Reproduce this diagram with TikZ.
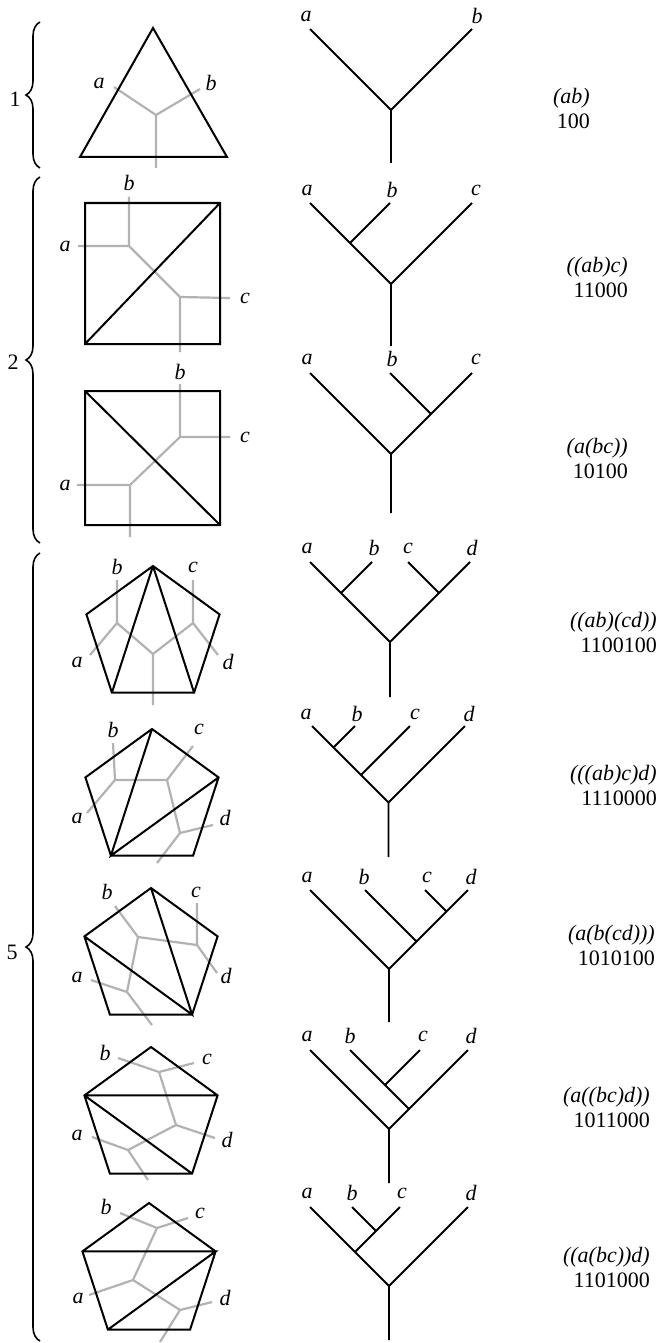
\documentclass[tikz,border=0pt]{standalone}
\usepackage{fontspec}
\setmainfont{Liberation Serif}
\usetikzlibrary{decorations.pathreplacing}
\tikzset{
  poly/.style={line width=2pt, line join=miter, draw=black},
  dual/.style={line width=2.2pt, draw=black!30},
  branch/.style={line width=1.8pt, draw=black},
  leaf/.style={font=\fontsize{22}{24}\selectfont\itshape, inner sep=0pt},
  word/.style={font=\fontsize{22}{25}\selectfont, align=right, anchor=east, inner sep=0pt},
  grp/.style={decorate, decoration={brace, amplitude=14pt}, line width=1.6pt},
  count/.style={font=\fontsize{22}{24}\selectfont, inner sep=0pt}
}
% regular pentagon corners: name, centre x, centre y
\newcommand\pentpts[3]{%
  \coordinate (#1t)  at (#2,#3-70);
  \coordinate (#1ul) at (#2-66.6,#3-21.6);
  \coordinate (#1ur) at (#2+66.6,#3-21.6);
  \coordinate (#1ll) at (#2-41.1,#3+56.6);
  \coordinate (#1lr) at (#2+41.1,#3+56.6);
}
\begin{document}
\begin{tikzpicture}[x=1pt,y=-1pt]
  \useasboundingbox (0,0) rectangle (661,1343);

  % braces
  \draw[grp] (40,168) -- (40,22);
  \node[count] (n1) at (15,99) {1};
  \draw[grp] (40,543) -- (40,177);
  \node[count] (n2) at (13,362) {2};
  \draw[grp] (40,1341) -- (40,553);
  \node[count] (n5) at (12,952) {5};

  % ---- triangle
  \coordinate (At) at (153,28);
  \coordinate (Al) at (80,157);
  \coordinate (Ar) at (227,157);
  \coordinate (Ag) at (156,115);
  \coordinate (Aa) at (114,87);
  \coordinate (Ab) at (200,89);
  \coordinate (Ax) at (156,168);
  \draw[dual] (Aa) -- (Ag) -- (Ab) (Ag) -- (Ax);
  \draw[poly] (At) -- (Al) -- (Ar) -- cycle;
  \node[leaf] (la1) at (99,83) {a};
  \node[leaf] (lb1) at (211,83) {b};

  % ---- square ((ab)c)
  \coordinate (B1) at (85,203);
  \coordinate (B2) at (220,203);
  \coordinate (B3) at (220,344);
  \coordinate (B4) at (85,344);
  \coordinate (Bg) at (129,246);
  \coordinate (Bh) at (180,297);
  \coordinate (Ba) at (78,246);
  \coordinate (Bb) at (129,197);
  \coordinate (Bc) at (230,298);
  \coordinate (Bx) at (180,352);
  \draw[dual] (Ba) -- (Bg) -- (Bb) (Bg) -- (Bh) -- (Bc) (Bh) -- (Bx);
  \draw[poly] (B1) -- (B2) -- (B3) -- (B4) -- cycle (B4) -- (B2);
  \node[leaf] (la2) at (65,246) {a};
  \node[leaf] (lb2) at (129,183) {b};
  \node[leaf] (lc2) at (245,298) {c};

  % ---- square (a(bc))
  \coordinate (C1) at (85,391);
  \coordinate (C2) at (220,391);
  \coordinate (C3) at (220,525);
  \coordinate (C4) at (85,525);
  \coordinate (Cg) at (180,437);
  \coordinate (Ch) at (130,485);
  \coordinate (Ca) at (77,485);
  \coordinate (Cb) at (180,384);
  \coordinate (Cc) at (230,437);
  \coordinate (Cx) at (130,537);
  \draw[dual] (Cb) -- (Cg) -- (Cc) (Cg) -- (Ch) -- (Ca) (Ch) -- (Cx);
  \draw[poly] (C1) -- (C2) -- (C3) -- (C4) -- cycle (C1) -- (C3);
  \node[leaf] (la3) at (65,485) {a};
  \node[leaf] (lb3) at (180,372) {b};
  \node[leaf] (lc3) at (245,437) {c};

  % ---- pentagon ((ab)(cd))
  \pentpts{D}{153}{636}
  \coordinate (Dg) at (117,623);
  \coordinate (Dh) at (193,623);
  \coordinate (Dm) at (153,654);
  \coordinate (Da) at (90,655);
  \coordinate (Db) at (117,580);
  \coordinate (Dc) at (193,580);
  \coordinate (Dd) at (218,655);
  \coordinate (Dx) at (153,705);
  \draw[dual] (Da) -- (Dg) -- (Db) (Dg) -- (Dm) -- (Dh) -- (Dc) (Dh) -- (Dd) (Dm) -- (Dx);
  \draw[poly] (Dt) -- (Dur) -- (Dlr) -- (Dll) -- (Dul) -- cycle (Dt) -- (Dll) (Dt) -- (Dlr);
  \node[leaf] (la4) at (77,662) {a};
  \node[leaf] (lb4) at (117,567) {b};
  \node[leaf] (lc4) at (193,567) {c};
  \node[leaf] (ld4) at (228,662) {d};

  % ---- pentagon (((ab)c)d)
  \pentpts{E}{152}{799}
  \coordinate (Eg) at (115,780);
  \coordinate (Eh) at (167,780);
  \coordinate (Em) at (180,833);
  \coordinate (Ea) at (87,813);
  \coordinate (Eb) at (113,743);
  \coordinate (Ec) at (193,746);
  \coordinate (Ed) at (213,825);
  \coordinate (Ex) at (157,863);
  \draw[dual] (Ea) -- (Eg) -- (Eb) (Eg) -- (Eh) -- (Ec) (Eh) -- (Em) -- (Ed) (Em) -- (Ex);
  \draw[poly] (Et) -- (Eur) -- (Elr) -- (Ell) -- (Eul) -- cycle (Et) -- (Ell) -- (Eur);
  \node[leaf] (la5) at (77,818) {a};
  \node[leaf] (lb5) at (113,730) {b};
  \node[leaf] (lc5) at (199,729) {c};
  \node[leaf] (ld5) at (225,818) {d};

  % ---- pentagon (a(b(cd)))
  \pentpts{F}{151}{958}
  \coordinate (Fg) at (138,937);
  \coordinate (Fh) at (197,945);
  \coordinate (Fm) at (127,992);
  \coordinate (Fa) at (91,980);
  \coordinate (Fb) at (115,906);
  \coordinate (Fc) at (197,903);
  \coordinate (Fd) at (217,973);
  \coordinate (Fx) at (152,1025);
  \draw[dual] (Fb) -- (Fg) -- (Fh) -- (Fc) (Fh) -- (Fd) (Fg) -- (Fm) -- (Fa) (Fm) -- (Fx);
  \draw[poly] (Ft) -- (Fur) -- (Flr) -- (Fll) -- (Ful) -- cycle (Ful) -- (Flr) -- (Ft);
  \node[leaf] (la6) at (77,977) {a};
  \node[leaf] (lb6) at (107,892) {b};
  \node[leaf] (lc6) at (196,892) {c};
  \node[leaf] (ld6) at (226,976) {d};

  % ---- pentagon (a((bc)d))
  \pentpts{G}{151}{1117}
  \coordinate (Gg) at (159,1072);
  \coordinate (Gh) at (176,1125);
  \coordinate (Gm) at (128,1150);
  \coordinate (Ga) at (92,1137);
  \coordinate (Gb) at (118,1058);
  \coordinate (Gc) at (194,1063);
  \coordinate (Gd) at (215,1138);
  \coordinate (Gx) at (148,1180);
  \draw[dual] (Gb) -- (Gg) -- (Gc) (Gg) -- (Gh) -- (Gd) (Gh) -- (Gm) -- (Ga) (Gm) -- (Gx);
  \draw[poly] (Gt) -- (Gur) -- (Glr) -- (Gll) -- (Gul) -- cycle (Gul) -- (Gur) (Gul) -- (Glr);
  \node[leaf] (la7) at (77,1135) {a};
  \node[leaf] (lb7) at (105,1053) {b};
  \node[leaf] (lc7) at (207,1059) {c};
  \node[leaf] (ld7) at (227,1140) {d};

  % ---- pentagon ((a(bc))d)
  \pentpts{H}{149}{1273}
  \coordinate (Hg) at (157,1228);
  \coordinate (Hh) at (133,1280);
  \coordinate (Hm) at (180,1310);
  \coordinate (Ha) at (89,1295);
  \coordinate (Hb) at (120,1213);
  \coordinate (Hc) at (188,1218);
  \coordinate (Hd) at (212,1302);
  \coordinate (Hx) at (160,1342);
  \draw[dual] (Hb) -- (Hg) -- (Hc) (Hg) -- (Hh) -- (Ha) (Hh) -- (Hm) -- (Hd) (Hm) -- (Hx);
  \draw[poly] (Ht) -- (Hur) -- (Hlr) -- (Hll) -- (Hul) -- cycle (Hul) -- (Hur) -- (Hll);
  \node[leaf] (la8) at (78,1298) {a};
  \node[leaf] (lb8) at (106,1207) {b};
  \node[leaf] (lc8) at (200,1213) {c};
  \node[leaf] (ld8) at (225,1298) {d};

  % ---- binary trees
  % (ab)
  \coordinate (ta1) at (310,29);
  \coordinate (tb1) at (472,29);
  \coordinate (tr1) at (391,110);
  \coordinate (ts1) at (391,163);
  \draw[branch] (ta1) -- (tr1) -- (tb1) (tr1) -- (ts1);
  \node[leaf] (ka1) at (306,16) {a};
  \node[leaf] (kb1) at (477,16) {b};
  % ((ab)c)
  \coordinate (ta2) at (310,203);
  \coordinate (tb2) at (390,203);
  \coordinate (tc2) at (472,203);
  \coordinate (tu2) at (350,243);
  \coordinate (tr2) at (391,284);
  \coordinate (ts2) at (391,346);
  \draw[branch] (ta2) -- (tr2) -- (tc2) (tu2) -- (tb2) (tr2) -- (ts2);
  \node[leaf] (ka2) at (307,190) {a};
  \node[leaf] (kb2) at (392,190) {b};
  \node[leaf] (kc2) at (476,190) {c};
  % (a(bc))
  \coordinate (ta3) at (310,373);
  \coordinate (tb3) at (390,373);
  \coordinate (tc3) at (472,373);
  \coordinate (tu3) at (431,414);
  \coordinate (tr3) at (391,454);
  \coordinate (ts3) at (391,513);
  \draw[branch] (ta3) -- (tr3) -- (tc3) (tu3) -- (tb3) (tr3) -- (ts3);
  \node[leaf] (ka3) at (307,359) {a};
  \node[leaf] (kb3) at (392,359) {b};
  \node[leaf] (kc3) at (476,359) {c};
  % ((ab)(cd))
  \coordinate (ta4) at (310,562);
  \coordinate (tb4) at (372,562);
  \coordinate (tc4) at (408,562);
  \coordinate (td4) at (470,562);
  \coordinate (tu4) at (341,593);
  \coordinate (tv4) at (439,593);
  \coordinate (tr4) at (390,642);
  \coordinate (ts4) at (390,697);
  \draw[branch] (ta4) -- (tr4) -- (td4) (tu4) -- (tb4) (tv4) -- (tc4) (tr4) -- (ts4);
  \node[leaf] (ka4) at (307,548) {a};
  \node[leaf] (kb4) at (374,548) {b};
  \node[leaf] (kc4) at (408,548) {c};
  \node[leaf] (kd4) at (472,548) {d};
  % (((ab)c)d)
  \coordinate (ta5) at (312,726);
  \coordinate (tb5) at (355,726);
  \coordinate (tc5) at (410,726);
  \coordinate (td5) at (465,726);
  \coordinate (tu5) at (333.5,747.5);
  \coordinate (tv5) at (361,775);
  \coordinate (tr5) at (388.5,802.5);
  \coordinate (ts5) at (388.5,857);
  \draw[branch] (ta5) -- (tr5) -- (td5) (tu5) -- (tb5) (tv5) -- (tc5) (tr5) -- (ts5);
  \node[leaf] (ka5) at (306,714) {a};
  \node[leaf] (kb5) at (357,714) {b};
  \node[leaf] (kc5) at (415,714) {c};
  \node[leaf] (kd5) at (469,714) {d};
  % (a(b(cd)))
  \coordinate (ta6) at (310,890);
  \coordinate (tb6) at (365,890);
  \coordinate (tc6) at (425,890);
  \coordinate (td6) at (468,890);
  \coordinate (tu6) at (446.5,911.5);
  \coordinate (tv6) at (416.5,941.5);
  \coordinate (tr6) at (389,969);
  \coordinate (ts6) at (389,1022);
  \draw[branch] (ta6) -- (tr6) -- (td6) (tu6) -- (tc6) (tv6) -- (tb6) (tr6) -- (ts6);
  \node[leaf] (ka6) at (307,877) {a};
  \node[leaf] (kb6) at (364,877) {b};
  \node[leaf] (kc6) at (427,877) {c};
  \node[leaf] (kd6) at (471,877) {d};
  % (a((bc)d))
  \coordinate (ta7) at (310,1050);
  \coordinate (tb7) at (350,1050);
  \coordinate (tc7) at (420,1050);
  \coordinate (td7) at (468,1050);
  \coordinate (tu7) at (385,1085);
  \coordinate (tv7) at (409,1109);
  \coordinate (tr7) at (389,1129);
  \coordinate (ts7) at (389,1183);
  \draw[branch] (ta7) -- (tr7) -- (td7) (tb7) -- (tu7) -- (tc7) (tu7) -- (tv7) (tr7) -- (ts7);
  \node[leaf] (ka7) at (307,1036) {a};
  \node[leaf] (kb7) at (350,1036) {b};
  \node[leaf] (kc7) at (423,1036) {c};
  \node[leaf] (kd7) at (471,1036) {d};
  % ((a(bc))d)
  \coordinate (ta8) at (310,1207);
  \coordinate (tb8) at (352,1207);
  \coordinate (tc8) at (400,1207);
  \coordinate (td8) at (468,1207);
  \coordinate (tu8) at (376,1231);
  \coordinate (tv8) at (355,1252);
  \coordinate (tr8) at (389,1286);
  \coordinate (ts8) at (389,1340);
  \draw[branch] (ta8) -- (tr8) -- (td8) (tb8) -- (tu8) -- (tc8) (tu8) -- (tv8) (tr8) -- (ts8);
  \node[leaf] (ka8) at (307,1193) {a};
  \node[leaf] (kb8) at (352,1193) {b};
  \node[leaf] (kc8) at (402,1193) {c};
  \node[leaf] (kd8) at (471,1193) {d};

  % ---- bracketings and codes
  \node[word] (w1) at (590,108) {\textit{(ab)}\\100};
  \node[word] (w2) at (628,277) {\textit{((ab)c)}\\11000};
  \node[word] (w3) at (628,458) {\textit{(a(bc))}\\10100};
  \node[word] (w4) at (657,632) {\textit{((ab)(cd))}\\1100100};
  \node[word] (w5) at (657,785) {\textit{(((ab)c)d)}\\1110000};
  \node[word] (w6) at (655,945) {\textit{(a(b(cd)))}\\1010100};
  \node[word] (w7) at (650,1107) {\textit{(a((bc)d))}\\1011000};
  \node[word] (w8) at (650,1267) {\textit{((a(bc))d)}\\1101000};
\end{tikzpicture}
\end{document}
